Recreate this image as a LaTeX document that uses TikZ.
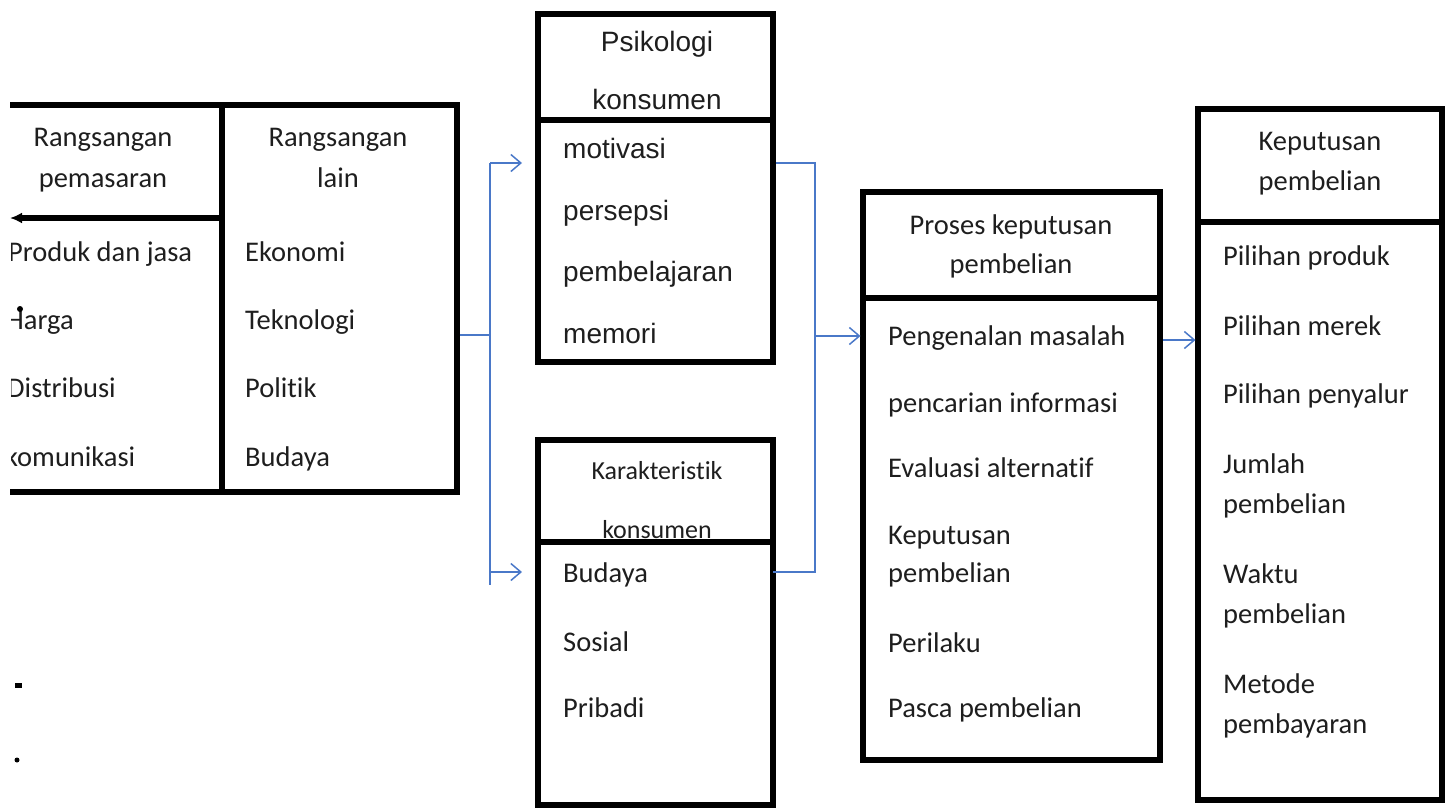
\documentclass[tikz,border=0pt]{standalone}
\usepackage{fontspec}
\setmainfont{Carlito}[Ligatures=NoCommon, RawFeature=-liga]
\newfontfamily\arialf{Liberation Sans}
\usetikzlibrary{arrows.meta}
\definecolor{conblue}{HTML}{4A78C8}
\definecolor{ink}{HTML}{1E1E1E}
\begin{document}
\begin{tikzpicture}[x=1pt,y=-1pt,
  box/.style={draw=black, line width=5.5pt, rectangle, outer sep=0pt, inner sep=0pt},
  blank/.style={rectangle, outer sep=0pt, inner sep=0pt},
  rule/.style={draw=black, line width=5.5pt, line join=miter},
  conn/.style={draw=conblue, line width=1.5pt},
  arr/.style={conn, -{Straight Barb[length=10pt,width=17pt]}},
  txt/.style={font=\fontsize{28.5}{34}\selectfont, text=ink, inner sep=0pt, anchor=base west},
  hdr/.style={txt, anchor=base},
  stxt/.style={font=\fontsize{26}{30}\selectfont, text=ink, inner sep=0pt, anchor=base},
  atxt/.style={font=\arialf\fontsize{28}{34}\selectfont, text=ink, inner sep=0pt, anchor=base west},
  ahdr/.style={atxt, anchor=base},
]
\useasboundingbox (0,0) rectangle (1445,808);
\clip (0,0) rectangle (1445,808);

% ---------- boxes ----------
\node[blank, minimum width=447pt, minimum height=387pt] (lt) at (233.5,298.5) {};
\node[box, minimum width=235pt, minimum height=348pt] (psi) at (655.5,188) {};
\node[box, minimum width=235pt, minimum height=365pt] (kar) at (655.5,622.5) {};
\node[box, minimum width=297pt, minimum height=568pt] (pro) at (1011.5,476) {};
\node[box, minimum width=244pt, minimum height=691pt] (kep) at (1320,454.5) {};

% left table (open on the left)
\draw[rule] (lt.north west) -- (lt.north east) -- (lt.south east) -- (lt.south west);
\draw[rule] (222,0 |- lt.north) -- (222,0 |- lt.south);
\draw[rule, -{Latex[length=12pt,width=11pt]}] (222,218) -- (lt.west |- 0,218);

% header dividers
\draw[rule] (psi.west |- 0,120) -- (psi.east |- 0,120);
\draw[rule] (kar.west |- 0,542) -- (kar.east |- 0,542);
\draw[rule] (pro.west |- 0,298) -- (pro.east |- 0,298);
\draw[rule] (kep.west |- 0,222) -- (kep.east |- 0,222);

% ---------- connectors ----------
\coordinate (ja) at (490,335);
\coordinate (lfTop) at (490,163);
\coordinate (lfLow) at (490,572);
\coordinate (lfEnd) at (490,585);
\coordinate (rfTop) at (815,163);
\coordinate (rfMid) at (815,336);
\coordinate (rfLow) at (815,572);
\coordinate (pk) at (1160,340);

\draw[conn, shorten <=2.75pt] (lt.east |- ja) -- (ja);
\draw[conn] (lfTop) -- (lfEnd);
\draw[arr, shorten >=16pt] (lfTop) -- (psi.west |- lfTop);
\draw[arr, shorten >=16pt] (lfLow) -- (kar.west |- lfLow);
\draw[conn, shorten <=2.75pt] (psi.east |- rfTop) -- (rfTop) -- (rfLow) -- (kar.east |- rfLow);
\draw[arr, shorten >=2.5pt] (rfMid) -- (pro.west |- rfMid);
\draw[arr, shorten <=2.75pt, shorten >=2.5pt] (pro.east |- pk) -- (kep.west |- pk);

% ---------- texts: left table ----------
\node[hdr] (l1a) at (103,146) {Rangsangan};
\node[hdr] (l1b) at (103,187) {pemasaran};
\node[hdr] (l2a) at (338,146) {Rangsangan};
\node[hdr] (l2b) at (338,187) {lain};
\begin{scope}
\clip (11,0) rectangle (1445,808);
\node[txt] (li1) at (8,261) {Produk dan jasa};
\node[txt] (li2) at (6,329) {Harga};
\node[txt] (li3) at (7,397) {Distribusi};
\node[txt] (li4) at (5,466) {komunikasi};
\end{scope}
\node[txt] (ri1) at (245,261) {Ekonomi};
\node[txt] (ri2) at (245,329) {Teknologi};
\node[txt] (ri3) at (245,397) {Politik};
\node[txt] (ri4) at (245,466) {Budaya};

% ---------- Psikologi konsumen ----------
\node[ahdr] (ph1) at (657,52) {Psikologi};
\node[ahdr] (ph2) at (657,109) {konsumen};
\node[atxt] (pi1) at (563,158) {motivasi};
\node[atxt] (pi2) at (563,220) {persepsi};
\node[atxt] (pi3) at (563,281) {pembelajaran};
\node[atxt] (pi4) at (563,343) {memori};

% ---------- Karakteristik konsumen ----------
\node[stxt] (kh1) at (657,479) {Karakteristik};
\node[stxt] (kh2) at (657,538) {konsumen};
\node[txt] (ki1) at (563,582) {Budaya};
\node[txt] (ki2) at (563,651) {Sosial};
\node[txt] (ki3) at (563,717) {Pribadi};

% ---------- Proses keputusan pembelian ----------
\node[hdr] (rh1) at (1011,234) {Proses keputusan};
\node[hdr] (rh2) at (1011,273) {pembelian};
\node[txt] (rp1) at (888,345) {Pengenalan masalah};
\node[txt] (rp2) at (888,412) {pencarian informasi};
\node[txt] (rp3) at (888,477) {Evaluasi alternatif};
\node[txt] (rp4) at (888,544) {Keputusan};
\node[txt] (rp5) at (888,582) {pembelian};
\node[txt] (rp6) at (888,652) {Perilaku};
\node[txt] (rp7) at (888,717) {Pasca pembelian};

% ---------- Keputusan pembelian ----------
\node[hdr] (eh1) at (1320,150) {Keputusan};
\node[hdr] (eh2) at (1320,190) {pembelian};
\node[txt] (e1) at (1223,265) {Pilihan produk};
\node[txt] (e2) at (1223,335) {Pilihan merek};
\node[txt] (e3) at (1223,403) {Pilihan penyalur};
\node[txt] (e4) at (1223,473) {Jumlah};
\node[txt] (e5) at (1223,513) {pembelian};
\node[txt] (e6) at (1223,583) {Waktu};
\node[txt] (e7) at (1223,623) {pembelian};
\node[txt] (e8) at (1223,693) {Metode};
\node[txt] (e9) at (1223,733) {pembayaran};

% stray scan marks
\fill[black] (20,309) circle (3pt);
\fill[black] (15,683) rectangle (22,688);
\fill[black] (17,760) circle (2.5pt);
\end{tikzpicture}
\end{document}
